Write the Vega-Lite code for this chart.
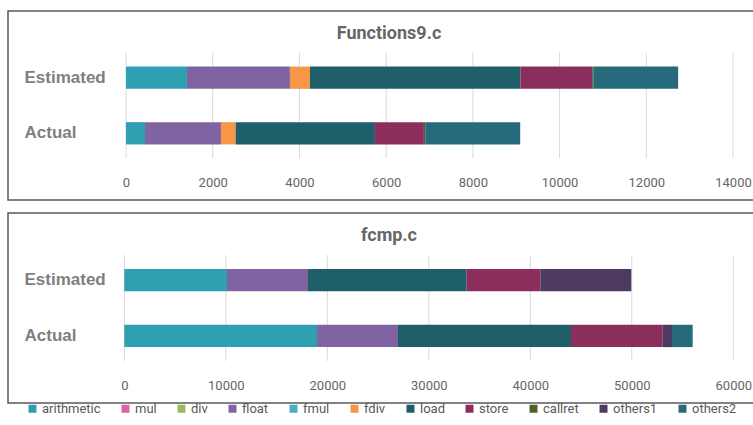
{
  "$schema": "https://vega.github.io/schema/vega-lite/v6.json",
  "padding": {"left": 7, "top": 10, "right": 0, "bottom": 0},
  "spacing": 11,
  "datasets": {
    "ops": [
      {"file": "Functions9.c", "run": "Estimated", "op": "arithmetic", "value": 1406},
      {"file": "Functions9.c", "run": "Estimated", "op": "float", "value": 2375},
      {"file": "Functions9.c", "run": "Estimated", "op": "fdiv", "value": 462},
      {"file": "Functions9.c", "run": "Estimated", "op": "load", "value": 4853},
      {"file": "Functions9.c", "run": "Estimated", "op": "store", "value": 1656},
      {"file": "Functions9.c", "run": "Estimated", "op": "callret", "value": 25},
      {"file": "Functions9.c", "run": "Estimated", "op": "others2", "value": 1958},
      {"file": "Functions9.c", "run": "Actual", "op": "arithmetic", "value": 438},
      {"file": "Functions9.c", "run": "Actual", "op": "float", "value": 1752},
      {"file": "Functions9.c", "run": "Actual", "op": "fdiv", "value": 339},
      {"file": "Functions9.c", "run": "Actual", "op": "load", "value": 3212},
      {"file": "Functions9.c", "run": "Actual", "op": "store", "value": 1130},
      {"file": "Functions9.c", "run": "Actual", "op": "callret", "value": 30},
      {"file": "Functions9.c", "run": "Actual", "op": "others2", "value": 2191},
      {"file": "fcmp.c", "run": "Estimated", "op": "arithmetic", "value": 10118},
      {"file": "fcmp.c", "run": "Estimated", "op": "float", "value": 7980},
      {"file": "fcmp.c", "run": "Estimated", "op": "load", "value": 15636},
      {"file": "fcmp.c", "run": "Estimated", "op": "store", "value": 7251},
      {"file": "fcmp.c", "run": "Estimated", "op": "others1", "value": 8966},
      {"file": "fcmp.c", "run": "Actual", "op": "arithmetic", "value": 18985},
      {"file": "fcmp.c", "run": "Actual", "op": "float", "value": 7980},
      {"file": "fcmp.c", "run": "Actual", "op": "load", "value": 17045},
      {"file": "fcmp.c", "run": "Actual", "op": "store", "value": 9034},
      {"file": "fcmp.c", "run": "Actual", "op": "others1", "value": 916},
      {"file": "fcmp.c", "run": "Actual", "op": "others2", "value": 2038}
    ],
    "ticksSmall": [
      {"t": 0}, {"t": 2000}, {"t": 4000}, {"t": 6000}, {"t": 8000},
      {"t": 10000}, {"t": 12000}, {"t": 14000}
    ],
    "ticksLarge": [
      {"t": 0}, {"t": 10000}, {"t": 20000}, {"t": 30000}, {"t": 40000},
      {"t": 50000}, {"t": 60000}
    ]
  },
  "vconcat": [
    {
      "width": 746,
      "height": 189,
      "title": {"text": "Functions9.c"},
      "layer": [
        {
          "data": {"name": "ticksSmall"},
          "mark": {"type": "rule", "color": "#D9D9D9", "strokeWidth": 1, "yOffset": -25, "y2Offset": 25},
          "encoding": {
            "x": {"field": "t", "type": "quantitative", "scale": {"domain": [0, 14000], "range": [118, 725], "nice": false},
                  "axis": {"values": [0, 2000, 4000, 6000, 8000, 10000, 12000, 14000], "format": "d"}},
            "y": {"datum": "Estimated", "type": "nominal", "scale": {"domain": ["Estimated", "Actual"]}},
            "y2": {"datum": "Actual"}
          }
        },
        {
          "data": {"name": "ops"},
          "transform": [
            {"filter": "datum.file === 'Functions9.c'"},
            {"calculate": "indexof(['arithmetic','mul','div','float','fmul','fdiv','load','store','callret','others1','others2'], datum.op)", "as": "stackOrder"}
          ],
          "mark": {"type": "bar"},
          "encoding": {
            "x": {"field": "value", "type": "quantitative", "stack": "zero"},
            "y": {"field": "run", "type": "nominal"},
            "order": {"field": "stackOrder", "type": "quantitative", "sort": "ascending"},
            "color": {"field": "op", "type": "nominal",
                      "scale": {"domain": ["arithmetic", "mul", "div", "float", "fmul", "fdiv", "load", "store", "callret", "others1", "others2"]}}
          }
        }
      ]
    },
    {
      "width": 746,
      "height": 190,
      "title": {"text": "fcmp.c"},
      "layer": [
        {
          "data": {"name": "ticksLarge"},
          "mark": {"type": "rule", "color": "#D9D9D9", "strokeWidth": 1, "yOffset": -25, "y2Offset": 25},
          "encoding": {
            "x": {"field": "t", "type": "quantitative", "scale": {"domain": [0, 60000], "range": [116.3, 725.3], "nice": false},
                  "axis": {"values": [0, 10000, 20000, 30000, 40000, 50000, 60000], "format": "d"}},
            "y": {"datum": "Estimated", "type": "nominal", "scale": {"domain": ["Estimated", "Actual"]}},
            "y2": {"datum": "Actual"}
          }
        },
        {
          "data": {"name": "ops"},
          "transform": [
            {"filter": "datum.file === 'fcmp.c'"},
            {"calculate": "indexof(['arithmetic','mul','div','float','fmul','fdiv','load','store','callret','others1','others2'], datum.op)", "as": "stackOrder"}
          ],
          "mark": {"type": "bar"},
          "encoding": {
            "x": {"field": "value", "type": "quantitative", "stack": "zero"},
            "y": {"field": "run", "type": "nominal"},
            "order": {"field": "stackOrder", "type": "quantitative", "sort": "ascending"},
            "color": {"field": "op", "type": "nominal",
                      "scale": {"domain": ["arithmetic", "mul", "div", "float", "fmul", "fdiv", "load", "store", "callret", "others1", "others2"]}}
          }
        }
      ]
    }
  ],
  "resolve": {"scale": {"color": "shared"}},
  "config": {
    "view": {"stroke": "#595959", "strokeWidth": 1.5},
    "title": {
      "anchor": "middle", "offset": -32, "dx": 8,
      "font": "Roboto, sans-serif", "fontSize": 18, "fontWeight": "bold", "color": "#666666"
    },
    "scale": {"bandPaddingInner": 0.6, "bandPaddingOuter": 1.153},
    "axisY": {
      "orient": "left", "offset": -16, "title": null, "domain": false, "ticks": false, "tickSize": 0,
      "labelPadding": 0, "labelAlign": "left", "labelFont": "Liberation Sans", "labelFontSize": 17,
      "labelFontWeight": "bold", "labelColor": "#7F7F7F", "grid": false
    },
    "axisX": {
      "orient": "bottom", "offset": -24, "title": null, "domain": false, "ticks": false, "tickSize": 0,
      "labelPadding": 0, "labelFont": "Roboto, sans-serif", "labelFontSize": 13, "labelColor": "#666666",
      "grid": false, "labelFlush": false
    },
    "range": {
      "category": ["#2EA0B1", "#D667A4", "#9BBB59", "#8064A2", "#4BACC6", "#F79646", "#1F5F69", "#8B2E5C", "#4F6228", "#4C3A60", "#276A7B"]
    },
    "legend": {
      "orient": "bottom", "direction": "horizontal", "title": null, "offset": -2,
      "symbolType": "square", "symbolSize": 64, "symbolStrokeWidth": 0,
      "labelFont": "Roboto, sans-serif", "labelFontSize": 13, "labelColor": "#595959",
      "columnPadding": 18, "labelOffset": 3,
      "layout": {"bottom": {"anchor": "middle"}}
    }
  }
}
